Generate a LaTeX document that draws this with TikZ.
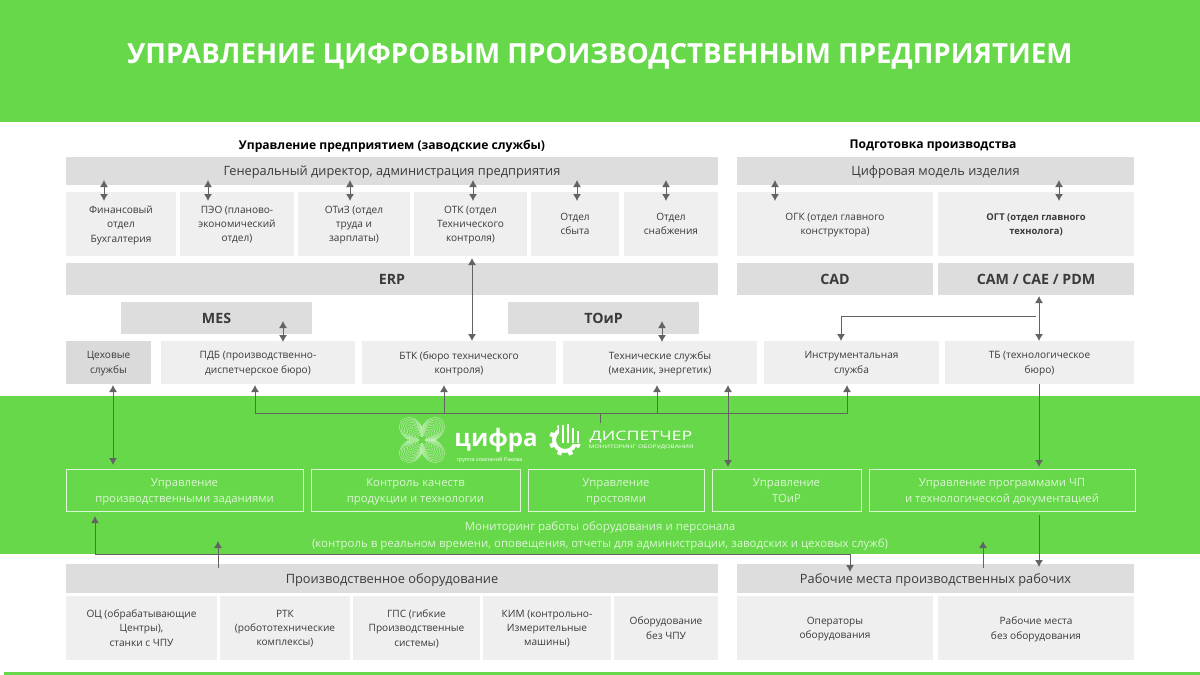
\documentclass[tikz,border=0pt]{standalone}
\usepackage{fontspec}
\setmainfont{Open Sans}
\newfontfamily\widefont[FakeStretch=1.37]{Open Sans}
\usetikzlibrary{positioning,arrows.meta,calc}
\definecolor{bandgreen}{HTML}{66D84A}
\definecolor{headgray}{HTML}{DDDDDD}
\definecolor{litegray}{HTML}{EFEFEF}
\definecolor{cellgray}{HTML}{DADADA}
\definecolor{linkgray}{HTML}{636363}
\definecolor{inktext}{HTML}{3A3A3A}
\definecolor{palegreen}{HTML}{DDF6D5}
\tikzset{
	box/.style={inner sep=0pt,outer sep=0pt,align=center,text=inktext},
	headbox/.style={box,fill=headgray,font=\fontsize{12.8}{15}\selectfont,text depth=-1.5pt},
	litebox/.style={box,fill=litegray,font=\fontsize{10.1}{14.3}\selectfont,text depth=-1.2pt},
	sysbox/.style={box,fill=headgray,minimum height=32pt,font=\bfseries\fontsize{14.2}{16}\selectfont,text depth=-3.4pt},
	framebox/.style={box,draw=palegreen,line width=0.8pt,minimum height=42pt,text=palegreen,font=\fontsize{11.3}{16}\selectfont,text depth=-1.3pt},
	caption/.style={box,text=black,font=\bfseries\fontsize{12.1}{14}\selectfont},
	link/.style={draw=linkgray,line width=1pt},
	uplink/.style={link,-{Latex[length=7pt,width=8pt]}},
	bilink/.style={link,{Latex[length=7pt,width=8pt]}-{Latex[length=7pt,width=8pt]}}
}
\begin{document}
\begin{tikzpicture}[x=1pt,y=-1pt]
	\useasboundingbox (0,0) rectangle (1200,675);
	
	% green bands
	\node (topband) [box,fill=bandgreen,minimum width=1200pt,minimum height=122pt,anchor=north west] at (0,0) {};
	\node (title) [box,text=white,font=\bfseries\fontsize{27.7}{30}\selectfont] at (600,56) {УПРАВЛЕНИЕ ЦИФРОВЫМ ПРОИЗВОДСТВЕННЫМ ПРЕДПРИЯТИЕМ};
	\node (band) [box,fill=bandgreen,minimum width=1200pt,minimum height=158pt,anchor=north west] at (0,396) {};
	\node (footband) [box,fill=bandgreen,minimum width=1196pt,minimum height=3pt,anchor=north west] at (4,672) {};
	
	% captions
	\node (capleft) [caption] at (392,146) {Управление предприятием (заводские службы)};
	\node (capright) [caption] at (933,146) {Подготовка производства};
	
	% first row
	\node (gen) [headbox,text depth=-5pt,minimum width=652pt,minimum height=28pt,anchor=north west] at (66,157) {Генеральный директор, администрация предприятия};
	\node (model) [headbox,text depth=-5pt,minimum width=397pt,minimum height=28pt,anchor=north west] at (737,157) {Цифровая модель изделия};
	
	% departments
	\node (fin) [litebox,minimum width=110pt,minimum height=64pt,anchor=north west] at (66,192) {Финансовый\\отдел\\Бухгалтерия};
	\node (peo) [litebox,minimum width=114pt,minimum height=64pt,right=4pt of fin] {ПЭО (планово-\\экономический\\отдел)};
	\node (otiz) [litebox,minimum width=112pt,minimum height=64pt,right=4pt of peo] {ОТиЗ (отдел\\труда и\\зарплаты)};
	\node (otk) [litebox,minimum width=113pt,minimum height=64pt,right=4pt of otiz] {ОТК (отдел\\Технического\\контроля)};
	\node (sales) [litebox,minimum width=88pt,minimum height=64pt,right=4pt of otk] {Отдел\\сбыта};
	\node (supply) [litebox,minimum width=94pt,minimum height=64pt,right=5pt of sales] {Отдел\\снабжения};
	\node (ogk) [litebox,minimum width=196pt,minimum height=64pt,anchor=north west] at (737,192) {ОГК (отдел главного\\конструктора)};
	\node (ogt) [litebox,minimum width=196pt,minimum height=64pt,right=5pt of ogk,font=\bfseries\fontsize{9.4}{14.3}\selectfont] {ОГТ (отдел главного\\технолога)};
	
	% systems
	\node (erp) [sysbox,minimum width=652pt,anchor=north west] at (66,263) {ERP};
	\node (cad) [sysbox,minimum width=196pt,anchor=north west] at (737,263) {CAD};
	\node (cam) [sysbox,minimum width=196pt,right=5pt of cad] {CAM / CAE / PDM};
	\node (mes) [sysbox,minimum width=191pt,anchor=north west] at (121,302) {MES};
	\node (toir) [sysbox,minimum width=191pt,anchor=north west] at (508,302) {ТОиР};
	
	% shop services
	\node (shop) [litebox,fill=cellgray,minimum width=85pt,minimum height=43pt,anchor=north west] at (66,341) {Цеховые\\службы};
	\node (pdb) [litebox,minimum width=194pt,minimum height=43pt,right=10pt of shop] {ПДБ (производственно-\\диспетчерское бюро)};
	\node (btk) [litebox,minimum width=194pt,minimum height=43pt,right=7pt of pdb] {БТК (бюро технического\\контроля)};
	\node (tech) [litebox,minimum width=194pt,minimum height=43pt,right=7pt of btk] {Технические службы\\(механик, энергетик)};
	\node (tool) [litebox,minimum width=175pt,minimum height=43pt,right=7pt of tech] {Инструментальная\\служба};
	\node (tb) [litebox,minimum width=189pt,minimum height=43pt,right=6pt of tool] {ТБ (технологическое\\бюро)};
	
	% logos
	\foreach \s in {6,8,...,28}{
		\draw[white,opacity=0.6,line width=0.4pt] plot[domain=0:360,samples=72,smooth cycle] ({422+\s*(0.45+0.55*abs(sin(2*\x)))*cos(\x)},{440+\s*(0.45+0.55*abs(sin(2*\x)))*sin(\x)});
	}
	\node (cifra) [box,text=white,font=\bfseries\fontsize{24}{26}\selectfont] at (496,440) {цифра};
	\node (group) [box,text=white,font=\fontsize{5.4}{6}\selectfont] at (489.5,460) {группа компаний Ракова};
	\draw[white,line width=4pt] (565,440) circle (11pt);
	\foreach \a in {0,45,...,315}{
		\draw[white,line width=4.4pt] ($(565,440)+(\a+22.5:10pt)$) -- ($(565,440)+(\a+22.5:16pt)$);
	}
	\fill[bandgreen] (559,422) rectangle (582,444);
	\foreach \p/\h in {563/18,568/19,573/15,578/12}{
		\draw[white,line width=2.8pt] (\p,443) -- (\p,443-\h);
	}
	\node (disp) [box,text=white,font=\widefont\fontsize{13}{14}\selectfont] at (641,437) {ДИСПЕТЧЕР};
	\node (dispsub) [box,text=white,font=\widefont\fontsize{4.9}{6}\selectfont] at (641,447) {МОНИТОРИНГ ОБОРУДОВАНИЯ};
	
	% control tasks
	\node (tasks) [framebox,minimum width=237pt,anchor=north west] at (66,469) {Управление\\производственными заданиями};
	\node (quality) [framebox,minimum width=209pt,right=8pt of tasks] {Контроль качеств\\продукции и технологии};
	\node (idle) [framebox,minimum width=176pt,right=8pt of quality] {Управление\\простоями};
	\node (upkeep) [framebox,minimum width=149pt,right=8pt of idle] {Управление\\ТОиР};
	\node (docs) [framebox,minimum width=266pt,right=8pt of upkeep] {Управление программами ЧП\\и технологической документацией};
	\node (watch) [box,text=palegreen,font=\fontsize{11.45}{17}\selectfont] at (600,536) {Мониторинг работы оборудования и персонала\\(контроль в реальном времени, оповещения, отчеты для администрации, заводских и цеховых служб)};
	
	% equipment
	\node (equip) [headbox,minimum width=652pt,minimum height=29pt,anchor=north west] at (66,564) {Производственное оборудование};
	\node (places) [headbox,minimum width=397pt,minimum height=29pt,anchor=north west] at (737,564) {Рабочие места производственных рабочих};
	\node (oc) [litebox,minimum width=151pt,minimum height=64pt,anchor=north west] at (66,596) {ОЦ (обрабатывающие\\Центры),\\станки с ЧПУ};
	\node (rtk) [litebox,minimum width=130pt,minimum height=64pt,right=3pt of oc] {РТК\\(робототехнические\\комплексы)};
	\node (gps) [litebox,minimum width=127pt,minimum height=64pt,right=3pt of rtk] {ГПС (гибкие\\Производственные\\системы)};
	\node (kim) [litebox,minimum width=128pt,minimum height=64pt,right=3pt of gps] {КИМ (контрольно-\\Измерительные\\машины)};
	\node (plain) [litebox,minimum width=104pt,minimum height=64pt,right=3pt of kim] {Оборудование\\без ЧПУ};
	\node (oper) [litebox,minimum width=196pt,minimum height=64pt,anchor=north west] at (737,596) {Операторы\\оборудования};
	\node (free) [litebox,minimum width=196pt,minimum height=64pt,right=5pt of oper] {Рабочие места\\без оборудования};
	
	% arrows between directors and departments
	\foreach \n/\x/\t in {fin/104/gen,peo/208/gen,otiz/350/gen,otk/473/gen,sales/577/gen,supply/666/gen,ogk/775/model,ogt/1059/model}{
		\coordinate (x\n) at (\x,0);
		\draw[bilink,shorten <=-5pt,shorten >=-9pt] (x\n |- \t.south)--(x\n |- \n.north);
	}
	\coordinate (xbtk) at (472,0);
	\coordinate (xmes) at (283,0);
	\coordinate (xtoir) at (662,0);
	\coordinate (xcam) at (1039,0);
	\coordinate (xtool) at (841,0);
	\coordinate (branch) at (1036,316);
	\draw[bilink,shorten <=2pt] (xbtk |- otk.south)--(xbtk |- btk.north);
	\draw[bilink,shorten <=-13pt,shorten >=-1pt] (xmes |- mes.south)--(xmes |- pdb.north);
	\draw[bilink,shorten <=-13pt,shorten >=-1pt] (xtoir |- toir.south)--(xtoir |- tech.north);
	\draw[bilink,shorten <=1pt] (xcam |- cam.south)--(xcam |- tb.north);
	\draw[uplink] (branch)-|(xtool |- tool.north);
	
	% bus under the shop services
	\coordinate (hub) at (600,413);
	\coordinate (stem) at (600,423);
	\draw[link] (stem)--(hub);
	\foreach \n/\x in {pdb/255,btk/444,tech/657,tool/847}{
		\coordinate (y\n) at (\x,0);
		\draw[uplink,shorten >=1pt] (hub)-|(y\n |- \n.south);
	}
	\coordinate (xshop) at (113,0);
	\coordinate (xtech) at (728,0);
	\draw[bilink,shorten <=1pt,shorten >=4pt] (xshop |- shop.south)--(xshop |- tasks.north);
	\draw[bilink,shorten <=1pt,shorten >=2pt] (xtech |- tech.south)--(xtech |- upkeep.north);
	\draw[uplink,shorten >=2pt] (xcam |- tb.south)--(xcam |- docs.north);
	\draw[uplink,shorten <=4pt,shorten >=-3pt] (xcam |- docs.south)--(xcam |- places.north);
	
	% arrows from the machines
	\coordinate (xequip) at (218,0);
	\coordinate (xplaces) at (983,0);
	\coordinate (wequip) at (218,541);
	\coordinate (wplaces) at (983,541);
	\coordinate (xloop) at (95,0);
	\coordinate (xdrop) at (850,0);
	\draw[uplink,shorten <=-4pt] (xequip |- equip.north)--(wequip);
	\draw[uplink,shorten <=-4pt] (xplaces |- places.north)--(wplaces);
	\draw[bilink,shorten <=5pt,shorten >=-8pt] (xloop |- tasks.south)--(xloop |- band.south)-|(xdrop |- places.north);
	
\end{tikzpicture}
\end{document}
